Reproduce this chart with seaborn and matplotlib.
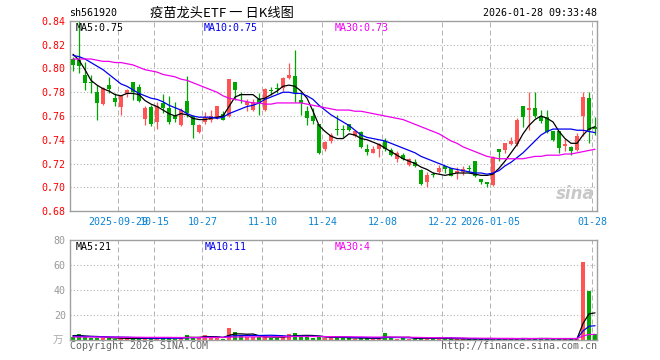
import numpy as np
import matplotlib
matplotlib.use("Agg")
import matplotlib.pyplot as plt
import seaborn as sns

# ---------------- data ----------------
opens = [0.808, 0.807, 0.7944, 0.788, 0.780, 0.7703, 0.7861, 0.775, 0.7672, 0.7786,
         0.7883, 0.7842, 0.7575, 0.7672, 0.7547, 0.7708, 0.7667, 0.7611, 0.752, 0.7728,
         0.7603, 0.7464, 0.7547, 0.757, 0.7583, 0.762, 0.7603, 0.7889, 0.7781, 0.7694,
         0.7653, 0.7747, 0.7653, 0.7817, 0.7836, 0.7833, 0.7917, 0.7936, 0.7736, 0.7639,
         0.7597, 0.7536, 0.732, 0.7389, 0.749, 0.7484, 0.7533, 0.743, 0.7467, 0.7319,
         0.7292, 0.7325, 0.7389, 0.7314, 0.7236, 0.727, 0.7186, 0.7214, 0.7144, 0.7042,
         0.7106, 0.7131, 0.7175, 0.7158, 0.7119, 0.7125, 0.7155, 0.7217, 0.7069, 0.7042,
         0.7019, 0.7319, 0.7314, 0.7361, 0.7361, 0.7686, 0.7653, 0.767, 0.7603, 0.7592,
         0.7472, 0.7472, 0.7347, 0.7341, 0.7314, 0.760, 0.7754, 0.751]
highs = [0.810, 0.840, 0.8056, 0.7944, 0.786, 0.7842, 0.793, 0.7792, 0.7778, 0.7828,
         0.7889, 0.787, 0.7686, 0.7694, 0.7722, 0.7786, 0.7769, 0.7722, 0.7667, 0.7936,
         0.7611, 0.7533, 0.7631, 0.7647, 0.7686, 0.764, 0.7911, 0.7889, 0.7806, 0.7742,
         0.7744, 0.7792, 0.7833, 0.7847, 0.7875, 0.7931, 0.8047, 0.8153, 0.7792, 0.7686,
         0.7667, 0.7536, 0.7389, 0.7458, 0.7611, 0.7528, 0.7536, 0.7486, 0.7472, 0.7361,
         0.7347, 0.7375, 0.7417, 0.7333, 0.7306, 0.7292, 0.725, 0.7236, 0.7153, 0.7125,
         0.7125, 0.7186, 0.7181, 0.7158, 0.7167, 0.7175, 0.7186, 0.7222, 0.7069, 0.7047,
         0.7264, 0.7325, 0.7375, 0.7425, 0.7583, 0.7686, 0.7806, 0.7806, 0.7653, 0.7653,
         0.7472, 0.7472, 0.7403, 0.7347, 0.7453, 0.7806, 0.7806, 0.7594]
lows = [0.798, 0.796, 0.7819, 0.779, 0.7564, 0.7694, 0.779, 0.7686, 0.761, 0.7764,
        0.7736, 0.7722, 0.752, 0.7514, 0.7492, 0.7625, 0.7536, 0.7547, 0.7514, 0.7592,
        0.7414, 0.7458, 0.7536, 0.7553, 0.7572, 0.7564, 0.7592, 0.7736, 0.7708, 0.7644,
        0.7639, 0.7611, 0.7639, 0.7778, 0.7792, 0.7814, 0.7908, 0.7722, 0.7611, 0.752,
        0.7536, 0.7278, 0.7306, 0.7375, 0.7444, 0.7422, 0.7472, 0.7422, 0.7333, 0.7269,
        0.7286, 0.7256, 0.7306, 0.7264, 0.7214, 0.7231, 0.7175, 0.7167, 0.702, 0.700,
        0.7083, 0.712, 0.712, 0.7092, 0.7069, 0.7106, 0.7119, 0.7083, 0.7028, 0.700,
        0.7014, 0.7222, 0.7286, 0.7353, 0.7347, 0.7506, 0.7486, 0.7583, 0.7542, 0.7458,
        0.7389, 0.7286, 0.7306, 0.7272, 0.7306, 0.743, 0.737, 0.744]
closes = [0.803, 0.802, 0.7875, 0.7875, 0.7708, 0.7833, 0.7828, 0.7722, 0.777, 0.782,
          0.7806, 0.7728, 0.767, 0.7536, 0.768, 0.7667, 0.7547, 0.7575, 0.7653, 0.7625,
          0.7528, 0.7528, 0.7592, 0.7603, 0.768, 0.757, 0.7911, 0.782, 0.7775, 0.7722,
          0.7722, 0.7708, 0.7825, 0.7811, 0.7831, 0.7917, 0.7944, 0.7792, 0.7708, 0.7583,
          0.7556, 0.7292, 0.738, 0.7444, 0.7486, 0.748, 0.748, 0.7472, 0.7342, 0.7297,
          0.7325, 0.7367, 0.7319, 0.727, 0.7292, 0.7236, 0.7236, 0.7175, 0.7028, 0.7106,
          0.7103, 0.7158, 0.7153, 0.7097, 0.7139, 0.7153, 0.7151, 0.7092, 0.7047, 0.7028,
          0.7258, 0.7297, 0.7369, 0.7389, 0.7569, 0.7592, 0.767, 0.7603, 0.7556, 0.7464,
          0.7397, 0.7333, 0.7361, 0.7308, 0.7432, 0.7762, 0.7482, 0.7488]
ma5 = [0.812, 0.807, 0.799, 0.790, 0.786, 0.783, 0.781, 0.778, 0.777, 0.779,
       0.779, 0.778, 0.773, 0.770, 0.768, 0.765, 0.762, 0.760, 0.762, 0.761,
       0.758, 0.757, 0.757, 0.758, 0.759, 0.760, 0.768, 0.776, 0.778, 0.778,
       0.778, 0.774, 0.775, 0.778, 0.781, 0.785, 0.786, 0.785, 0.781, 0.775,
       0.764, 0.752, 0.747, 0.743, 0.741, 0.741, 0.745, 0.744, 0.741, 0.740,
       0.738, 0.736, 0.733, 0.730, 0.727, 0.724, 0.722, 0.720, 0.717, 0.715,
       0.712, 0.711, 0.710, 0.711, 0.712, 0.712, 0.712, 0.711, 0.710, 0.710,
       0.711, 0.716, 0.722, 0.729, 0.736, 0.745, 0.752, 0.757, 0.760, 0.758,
       0.755, 0.747, 0.741, 0.737, 0.737, 0.744, 0.749, 0.751]
ma10 = [0.811, 0.810, 0.808, 0.805, 0.802, 0.799, 0.795, 0.791, 0.787, 0.785,
        0.782, 0.779, 0.777, 0.775, 0.774, 0.772, 0.769, 0.767, 0.765, 0.762,
        0.760, 0.759, 0.759, 0.759, 0.758, 0.759, 0.762, 0.764, 0.766, 0.768,
        0.769, 0.771, 0.774, 0.776, 0.778, 0.780, 0.780, 0.779, 0.779, 0.777,
        0.774, 0.769, 0.765, 0.761, 0.758, 0.755, 0.752, 0.748, 0.744, 0.742,
        0.741, 0.740, 0.739, 0.737, 0.735, 0.733, 0.731, 0.729, 0.726, 0.724,
        0.722, 0.720, 0.718, 0.716, 0.715, 0.714, 0.713, 0.712, 0.712, 0.711,
        0.712, 0.714, 0.718, 0.721, 0.725, 0.729, 0.734, 0.739, 0.744, 0.747,
        0.749, 0.749, 0.749, 0.749, 0.748, 0.748, 0.747, 0.746]
ma30 = [0.808, 0.808, 0.808, 0.808, 0.807, 0.806, 0.806, 0.805, 0.805, 0.804,
        0.803, 0.801, 0.799, 0.798, 0.797, 0.795, 0.794, 0.793, 0.791, 0.790,
        0.788, 0.786, 0.784, 0.782, 0.780, 0.777, 0.775, 0.774, 0.773, 0.772,
        0.771, 0.771, 0.770, 0.770, 0.771, 0.771, 0.771, 0.771, 0.771, 0.770,
        0.769, 0.768, 0.767, 0.766, 0.765, 0.765, 0.765, 0.764, 0.764, 0.763,
        0.762, 0.761, 0.760, 0.759, 0.758, 0.757, 0.755, 0.753, 0.751, 0.749,
        0.747, 0.745, 0.742, 0.739, 0.737, 0.734, 0.732, 0.730, 0.728, 0.726,
        0.725, 0.724, 0.724, 0.724, 0.724, 0.724, 0.725, 0.726, 0.726, 0.727,
        0.727, 0.727, 0.728, 0.728, 0.729, 0.730, 0.731, 0.732]
volumes = [2.5, 4.5, 3.0, 1.8, 2.0, 1.5, 1.5, 1.2, 1.3, 1.0,
           1.2, 1.5, 1.5, 1.6, 1.4, 2.4, 1.8, 1.2, 1.5, 4.0,
           2.0, 1.5, 4.0, 1.8, 1.5, 1.2, 9.6, 6.4, 3.0, 2.5,
           2.5, 2.4, 2.6, 2.0, 2.0, 2.5, 4.8, 5.6, 3.0, 2.5,
           2.0, 3.0, 2.0, 1.5, 2.5, 1.5, 1.5, 1.2, 2.0, 1.5,
           1.0, 1.0, 5.6, 1.5, 1.2, 1.5, 1.0, 1.2, 2.0, 1.5,
           1.0, 1.2, 0.8, 1.0, 0.8, 0.8, 0.8, 1.0, 0.8, 1.0,
           1.6, 0.8, 0.8, 0.8, 1.0, 1.6, 1.2, 1.0, 1.2, 1.2,
           1.0, 1.0, 0.8, 0.8, 1.2, 62.6, 39.2, 4.8]
vol_ma5 = [3.5, 3.6, 3.2, 2.9, 2.8, 2.6, 2.0, 1.6, 1.5, 1.3,
           1.2, 1.3, 1.3, 1.4, 1.5, 1.7, 1.7, 1.7, 1.7, 2.2,
           2.1, 2.1, 2.6, 2.7, 2.6, 2.0, 3.7, 4.9, 4.9, 4.6,
           4.8, 3.4, 2.6, 2.4, 2.3, 2.3, 2.8, 3.4, 3.6, 3.7,
           3.6, 3.2, 2.5, 2.2, 2.2, 2.1, 1.8, 1.6, 1.7, 1.5,
           1.4, 1.3, 2.2, 2.1, 2.1, 2.1, 2.2, 1.3, 1.4, 1.4,
           1.3, 1.4, 1.3, 1.1, 1.0, 0.9, 0.8, 0.9, 0.9, 0.9,
           1.0, 1.0, 1.0, 1.0, 1.0, 1.2, 1.1, 1.1, 1.2, 1.2,
           1.1, 1.1, 1.0, 1.0, 1.0, 13.2, 20.9, 21.7]
vol_ma10 = [3.0, 3.0, 2.9, 2.8, 2.7, 2.6, 2.5, 2.4, 2.3, 2.2,
            2.0, 1.8, 1.6, 1.5, 1.4, 1.4, 1.5, 1.5, 1.5, 1.8,
            1.9, 1.9, 2.2, 2.2, 2.2, 2.0, 2.9, 3.4, 3.5, 3.6,
            3.6, 3.6, 3.7, 3.8, 3.6, 3.4, 3.0, 3.0, 3.1, 3.1,
            3.0, 3.0, 2.7, 2.6, 2.5, 2.5, 2.3, 2.0, 1.9, 1.9,
            1.8, 1.7, 2.1, 2.0, 2.0, 1.9, 1.8, 1.8, 1.9, 1.8,
            1.7, 1.7, 1.7, 1.7, 1.5, 1.3, 1.1, 1.1, 1.0, 1.0,
            1.0, 1.0, 1.0, 1.0, 1.0, 1.0, 1.0, 1.1, 1.1, 1.1,
            1.1, 1.1, 1.1, 1.1, 1.1, 7.2, 11.0, 11.4]
vol_ma30 = [2.4, 2.4, 2.4, 2.4, 2.3, 2.3, 2.3, 2.3, 2.2, 2.2,
            2.2, 2.2, 2.1, 2.1, 2.1, 2.1, 2.1, 2.0, 2.0, 2.0,
            2.0, 2.0, 2.0, 2.0, 2.1, 2.1, 2.3, 2.4, 2.5, 2.5,
            2.5, 2.5, 2.6, 2.6, 2.6, 2.6, 2.7, 2.8, 2.8, 2.8,
            2.8, 2.8, 2.7, 2.7, 2.6, 2.6, 2.6, 2.5, 2.5, 2.4,
            2.3, 2.3, 2.4, 2.4, 2.3, 2.3, 2.2, 2.1, 2.0, 1.9,
            1.9, 1.8, 1.8, 1.7, 1.6, 1.6, 1.5, 1.5, 1.4, 1.4,
            1.4, 1.3, 1.3, 1.3, 1.2, 1.2, 1.2, 1.2, 1.2, 1.2,
            1.2, 1.2, 1.2, 1.2, 1.2, 3.2, 4.4, 4.5]
tick_index = [8, 14, 22, 32, 42, 52, 62, 70, 87]
tick_labels = ["2025-09-29", "10-15", "10-27", "11-10", "11-24", "12-08",
               "12-22", "2026-01-05", "01-28"]
price_ticks = [0.68, 0.70, 0.72, 0.74, 0.76, 0.78, 0.80, 0.82, 0.84]
vol_ticks = [20, 40, 60, 80]
code = "sh561920"
title = "疫苗龙头ETF 一 日K线图"
stamp = "2026-01-28 09:33:48"

# ---------------- style ----------------
sns.set_theme(style="white")
plt.rcParams['font.family'] = ['DejaVu Sans Mono', 'Noto Sans CJK SC']
plt.rcParams['axes.edgecolor'] = '#a0a0a0'
plt.rcParams['axes.linewidth'] = 1.0

RED = '#ff5454'
GREEN = '#00a600'
GRID = '#b4b4b4'
FS = 7.2

W, H = 660, 360
fig = plt.figure(figsize=(W / 100, H / 100), dpi=100)
L, R = 70, 597
ax = fig.add_axes([L / W, 1 - 211 / H, (R - L) / W, 190 / H])
axv = fig.add_axes([L / W, 1 - 340 / H, (R - L) / W, 100 / H])

n = len(closes)
x = np.arange(n)
o = np.array(opens); c = np.array(closes)
hi = np.array(highs); lo = np.array(lows)
cols = np.where(c >= o, RED, GREEN)

grid_x = np.array(tick_index) - 0.45
for a in (ax, axv):
    for gx in grid_x:
        a.axvline(gx, color=GRID, lw=0.72, ls=(0, (5, 3)), zorder=0)

# candles
ax.vlines(x, lo, hi, colors=cols, lw=0.9, zorder=2)
body_b = np.minimum(o, c)
body_h = np.maximum(np.abs(c - o), 0.0008)
ax.bar(x, body_h, bottom=body_b, width=0.82, color=cols, linewidth=0, zorder=3)

sns.lineplot(x=x, y=ma5, ax=ax, color='black', lw=0.9, legend=False, zorder=4)
sns.lineplot(x=x, y=ma10, ax=ax, color='#0000ee', lw=0.9, legend=False, zorder=4)
sns.lineplot(x=x, y=ma30, ax=ax, color='#ee00ee', lw=0.9, legend=False, zorder=4)

ax.set_xlim(-0.5, 87.33)
ax.set_ylim(0.68, 0.84)
ax.set_yticks(price_ticks)
ax.set_yticklabels([f"{t:.2f}" for t in price_ticks], color='red', fontsize=FS)
for t in price_ticks[1:-1]:
    ax.axhline(t, color=GRID, lw=0.8, ls=(0, (1, 2)), zorder=0)
ax.set_xticks(grid_x)
ax.set_xticklabels(tick_labels, color='#0a84d4', fontsize=FS)
ax.tick_params(axis='both', length=0, pad=3)
ax.tick_params(axis='x', pad=4)
ax.set_xlabel(''); ax.set_ylabel('')

ax.text(0.01, 0.965, f"MA5:{ma5[-1]:.2f}", transform=ax.transAxes, color='black',
        fontsize=FS, va='center', ha='left')
ax.text((204 - L) / (R - L), 0.965, f"MA10:{ma10[-1]:.2f}", transform=ax.transAxes,
        color='#0000ee', fontsize=FS, va='center', ha='left')
ax.text((335 - L) / (R - L), 0.965, f"MA30:{ma30[-1]:.2f}", transform=ax.transAxes,
        color='#ee00ee', fontsize=FS, va='center', ha='left')
ax.text(0.995, 0.04, "sina", transform=ax.transAxes, color='#c8c8c8', fontsize=12,
        fontweight='bold', fontstyle='italic', family=['DejaVu Sans'],
        ha='right', va='bottom', zorder=1)

# volume
axv.bar(x, volumes, width=0.82, color=cols, linewidth=0, zorder=2)
sns.lineplot(x=x, y=vol_ma5, ax=axv, color='black', lw=0.9, legend=False, zorder=4)
sns.lineplot(x=x, y=vol_ma10, ax=axv, color='#0000ee', lw=0.9, legend=False, zorder=4)
sns.lineplot(x=x, y=vol_ma30, ax=axv, color='#ee00ee', lw=0.9, legend=False, zorder=4)
axv.set_xlim(-0.5, 87.33)
axv.set_ylim(0, 80)
axv.set_yticks(vol_ticks)
axv.set_yticklabels([str(v) for v in vol_ticks], color='#999999', fontsize=FS)
for t in vol_ticks[:-1]:
    axv.axhline(t, color=GRID, lw=0.8, ls=(0, (1, 2)), zorder=0)
axv.set_xticks([])
axv.tick_params(axis='both', length=0, pad=3)
axv.set_xlabel(''); axv.set_ylabel('')
axv.text(0.01, 0.935, f"MA5:{int(vol_ma5[-1])}", transform=axv.transAxes,
         color='black', fontsize=FS, va='center', ha='left')
axv.text((205 - L) / (R - L), 0.935, f"MA10:{int(vol_ma10[-1])}", transform=axv.transAxes,
         color='#0000ee', fontsize=FS, va='center', ha='left')
axv.text((335 - L) / (R - L), 0.935, f"MA30:{int(vol_ma30[-1])}", transform=axv.transAxes,
         color='#ee00ee', fontsize=FS, va='center', ha='left')

# header and footer texts
fig.text(69 / W, 1 - 12.5 / H, code, fontsize=FS, color='black', va='center', ha='left')
fig.text(150 / W, 1 - 13 / H, title, fontsize=9.5, color='black', va='center', ha='left',
         family=['Noto Sans CJK SC', 'DejaVu Sans'])
fig.text(597 / W, 1 - 12.5 / H, stamp, fontsize=FS, color='black', va='center', ha='right')
fig.text(63 / W, 1 - 341 / H, "万", fontsize=7.5, color='#aaaaaa', va='center', ha='right',
         family=['Noto Sans CJK SC', 'DejaVu Sans'])
fig.text(70 / W, 1 - 346 / H, "Copyright 2026 SINA.COM", fontsize=FS, color='#666666',
         va='center', ha='left')
fig.text(597 / W, 1 - 346 / H, "http://finance.sina.com.cn", fontsize=FS, color='#666666',
         va='center', ha='right')

fig.savefig("out.png", dpi=100, facecolor='white')
